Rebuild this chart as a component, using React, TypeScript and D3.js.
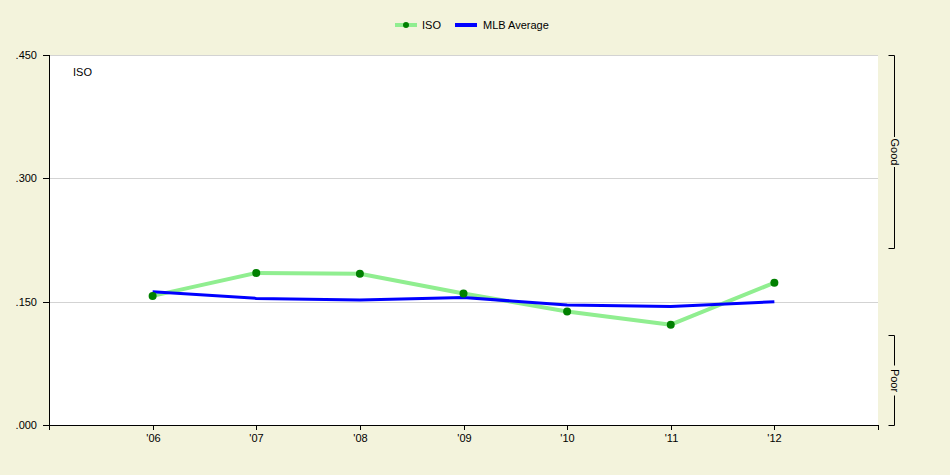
import * as d3 from "d3"

// Seasons and values
const seasons = [2006, 2007, 2008, 2009, 2010, 2011, 2012]
const isoValues = [0.157, 0.185, 0.184, 0.160, 0.138, 0.122, 0.173]
const mlbAverage = [0.162, 0.154, 0.152, 0.155, 0.146, 0.144, 0.150]
const yTicks = [0, 0.15, 0.3, 0.45]
const ratingBands = [
  { label: "Good", from: 0.215, to: 0.45 },
  { label: "Poor", from: 0, to: 0.1095 },
]

const W = 950
const H = 475
const margin = { top: 55, right: 72, bottom: 50, left: 49 }
const FONT = "'Liberation Sans', Arial, sans-serif"

export default function App() {
  const innerW = W - margin.left - margin.right
  const innerH = H - margin.top - margin.bottom

  const x = d3.scaleLinear().domain([2005, 2013]).range([0, innerW])
  const y = d3.scaleLinear().domain([0, 0.45]).range([innerH, 0])

  const line = d3
    .line<number>()
    .x((_, i) => x(seasons[i]))
    .y((d) => y(d))

  const fmt = (v: number) => d3.format(".3f")(v).replace(/^0/, "")
  const xTickValues = d3.range(2005, 2014)

  return (
    <svg width={W} height={H} style={{ position: "absolute", left: 0, top: 0 }} fontFamily={FONT} fontSize={11}>
      <rect width={W} height={H} fill="#f3f3dc" />

      {/* Legend */}
      <g transform="translate(395,25)">
        <line x1={0} x2={22} stroke="#90ee90" strokeWidth={4} />
        <circle cx={11} cy={0} r={3} fill="#008000" />
        <text x={27} dy="0.35em" fill="#000">ISO</text>
        <line x1={60} x2={82} stroke="#0000ff" strokeWidth={4} />
        <text x={88} dy="0.35em" fill="#000">MLB Average</text>
      </g>

      <g transform={`translate(${margin.left},${margin.top})`}>
        <rect width={innerW} height={innerH} fill="#fff" />
        <line x1={0} x2={innerW} y1={0.5} y2={0.5} stroke="#d3d3d3" />

        {/* Gridlines */}
        {yTicks.filter((t) => t > 0 && t < 0.45).map((t) => (
          <line key={t} x1={0} x2={innerW} y1={Math.round(y(t)) + 0.5} y2={Math.round(y(t)) + 0.5} stroke="#d3d3d3" />
        ))}

        <text x={24} y={17} dy="0.35em" fill="#000">ISO</text>

        {/* Series */}
        <path d={line(isoValues) as string} fill="none" stroke="#90ee90" strokeWidth={4} strokeLinejoin="round" />
        <path d={line(mlbAverage) as string} fill="none" stroke="#0000ff" strokeWidth={3} strokeLinejoin="round" />
        {isoValues.map((v, i) => (
          <circle key={i} cx={x(seasons[i])} cy={y(v)} r={4} fill="#008000" />
        ))}

        {/* Left axis */}
        <line x1={0.5} x2={0.5} y1={0} y2={innerH} stroke="#000" />
        {yTicks.map((t) => (
          <g key={t} transform={`translate(0,${Math.round(y(t)) + 0.5})`}>
            <line x1={-6} x2={0} stroke="#000" />
            <text x={-12} dy="0.35em" textAnchor="end" fill="#000">{fmt(t)}</text>
          </g>
        ))}

        {/* Bottom axis */}
        <line x1={0} x2={innerW + 1} y1={innerH + 0.5} y2={innerH + 0.5} stroke="#000" />
        {xTickValues.map((t) => (
          <g key={t} transform={`translate(${Math.round(x(t)) + 0.5},${innerH})`}>
            <line y1={0} y2={5} stroke="#000" />
            {seasons.includes(t) && (
              <text y={13} dy="0.35em" textAnchor="middle" fill="#000">{"'" + String(t).slice(2)}</text>
            )}
          </g>
        ))}

        {/* Rating brackets */}
        {ratingBands.map((b) => {
          const y0 = Math.round(y(b.to)) + 0.5
          const y1 = Math.round(y(b.from)) + 0.5
          const bx = innerW + 16.5
          const mid = (y0 + y1) / 2
          return (
            <g key={b.label}>
              <path d={`M${bx - 6},${y0}H${bx}V${y1}H${bx - 6}`} fill="none" stroke="#000" />
              <g transform={`translate(${bx},${mid}) rotate(90)`}>
                <rect x={-15} y={-6} width={30} height={12} fill="#f3f3dc" />
                <text textAnchor="middle" dy="0.35em" fill="#000">{b.label}</text>
              </g>
            </g>
          )
        })}
      </g>
    </svg>
  )
}
